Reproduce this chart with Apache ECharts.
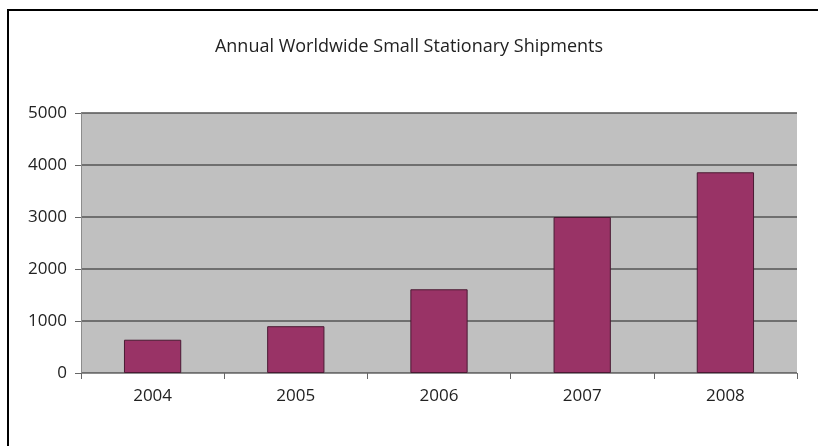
<!DOCTYPE html>
<html lang="en">
<head>
    <meta charset="UTF-8">
    <title>Annual Worldwide Small Stationary Shipments</title>
    <style>
        * {
            padding: 0;
            margin: 0;
        }
        body {
            background: #fff;
        }
        .frame {
            position: absolute;
            left: 7px;
            top: 9px;
            width: 811px;
            height: 437px;
            border-left: 2px solid #000;
            border-top: 2px solid #000;
        }
        .EC {
            position: absolute;
            left: 0;
            top: 0;
            width: 818px;
            height: 446px;
        }
    </style>
</head>
<body>
<div class="frame"></div>
<div class="EC"></div>
<script src="https://cdn.jsdelivr.net/npm/echarts@6/dist/echarts.min.js"></script>
<script>
    const years = ['2004', '2005', '2006', '2007', '2008']
    const shipments = [640, 900, 1610, 3000, 3860]
    const yTicks = [0, 1000, 2000, 3000, 4000, 5000]

    const fontFamily = '"Open Sans", "DejaVu Sans", sans-serif'

    window.onload = () => {
        let EC = echarts.init(document.querySelector('.EC'))
        let option = {
            backgroundColor: 'transparent',
            animation: false,
            title: {
                text: 'Annual Worldwide Small Stationary Shipments',
                left: 'center',
                top: 33,
                textStyle: {
                    color: '#222',
                    fontFamily: fontFamily,
                    fontWeight: 'normal',
                    fontSize: 18
                }
            },
            grid: {
                left: 81,
                right: 21,
                top: 113,
                bottom: 73,
                show: true,
                backgroundColor: '#c0c0c0',
                borderWidth: 0
            },
            xAxis: {
                type: 'category',
                data: years,
                axisLine: {
                    lineStyle: { color: '#8c8c8c', width: 1 }
                },
                axisTick: {
                    show: true,
                    length: 6,
                    lineStyle: { color: '#666' }
                },
                axisLabel: {
                    color: '#222',
                    fontFamily: fontFamily,
                    fontSize: 17,
                    margin: 15
                }
            },
            yAxis: {
                type: 'value',
                min: yTicks[0],
                max: yTicks[yTicks.length - 1],
                interval: 1000,
                axisLine: {
                    show: true,
                    lineStyle: { color: '#8c8c8c', width: 1 }
                },
                axisTick: {
                    show: true,
                    length: 6,
                    lineStyle: { color: '#666' }
                },
                axisLabel: {
                    color: '#222',
                    fontFamily: fontFamily,
                    fontSize: 17,
                    margin: 14,
                    formatter: v => String(v)
                },
                splitLine: {
                    lineStyle: { color: '#555', width: 1.5 }
                }
            },
            series: [{
                type: 'bar',
                data: shipments,
                barWidth: '40%',
                itemStyle: {
                    color: '#993366',
                    borderColor: '#4a1a33',
                    borderWidth: 1
                }
            }]
        }
        EC.setOption(option)
    }
</script>
</body>
</html>
